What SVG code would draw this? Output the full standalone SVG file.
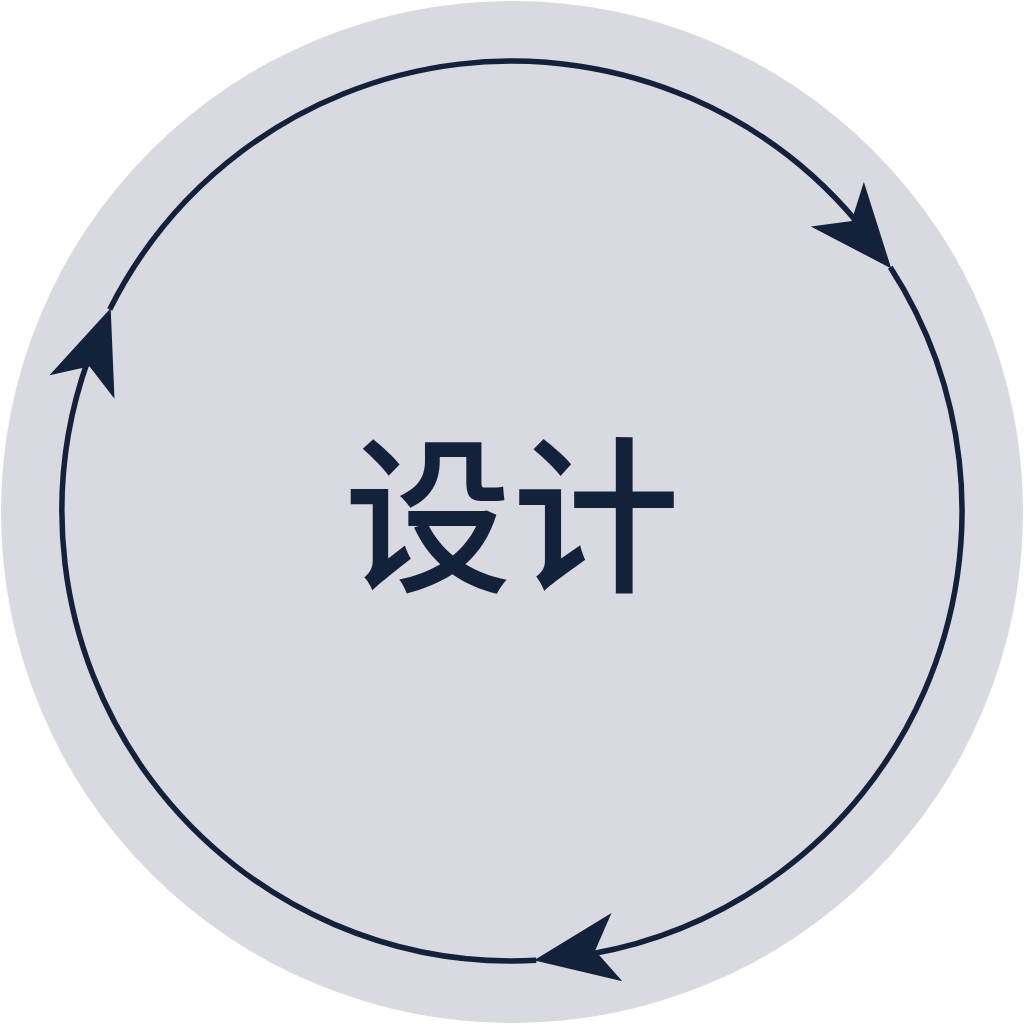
<svg xmlns="http://www.w3.org/2000/svg" width="1024" height="1024" viewBox="0 0 1024 1024">
  <style>
    .arc { fill: none; stroke: #13213a; stroke-width: 5.5; stroke-linecap: butt; }
    .head { fill: #13213a; stroke: #13213a; stroke-width: 1.5; stroke-linejoin: miter; }
    .label { font-family: "Noto Sans CJK SC", "Noto Sans", sans-serif; font-size: 168px; font-weight: 500; fill: #13213a; }
  </style>
  <defs>
    <polygon id="arrowhead" points="0,0 -80,-33 -59,0 -80,33"/>
  </defs>
  <rect width="1024" height="1024" fill="#ffffff"/>
  <g id="background-circle">
    <circle cx="512" cy="512" r="511" fill="#d9d9e1"/>
  </g>
  <g id="connectors">
    <path class="arc" d="M 109.7 309.5 A 450 450 0 0 1 856.7 221.7"/>
    <path class="arc" d="M 890.3 267.2 A 450 450 0 0 1 590.9 954.0"/>
    <path class="arc" d="M 536.3 960.3 A 450 450 0 0 1 88 360"/>
    <use href="#arrowhead" class="head" transform="translate(890 267) rotate(50)"/>
    <use href="#arrowhead" class="head" transform="translate(536 960) rotate(171)"/>
    <use href="#arrowhead" class="head" transform="translate(110 310) rotate(-70)"/>
  </g>
  <g id="node-center">
    <text class="label" x="512" y="505" text-anchor="middle" dominant-baseline="central">设计</text>
  </g>
</svg>
